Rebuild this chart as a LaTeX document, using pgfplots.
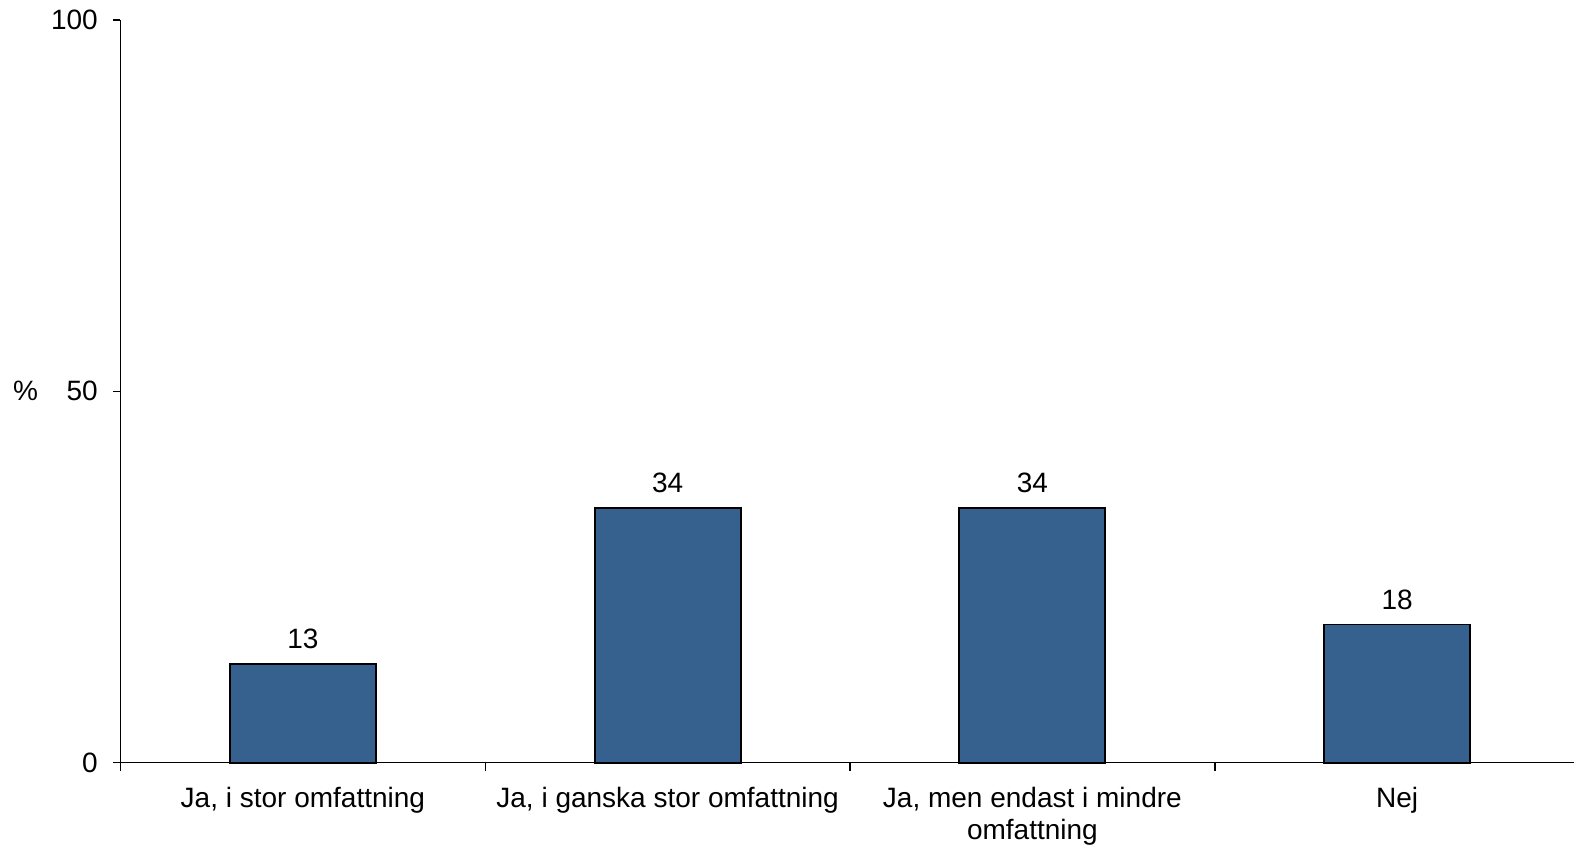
\documentclass[border=0pt]{standalone}
\usepackage{pgfplots}
\pgfplotsset{compat=1.18}
\usepackage{fontspec}
\setmainfont{Liberation Sans}
\definecolor{barblue}{HTML}{36618F}

\begin{document}
\fontsize{14pt}{15pt}\selectfont
\begin{tikzpicture}
  % canvas: 1574x845 px at 0.5pt per px, axis corner at (120.5,762.7) px
  \useasboundingbox (-60.25pt,-41.15pt) rectangle (726.75pt,381.35pt);
  \begin{axis}[
      at={(0,0)}, anchor=south west,
      scale only axis,
      width=729.5pt, height=371.35pt,
      xmin=-0.5, xmax=3.5,
      ymin=0, ymax=100,
      axis x line=bottom, axis y line=left,
      axis line style={-, line width=0.75pt},
      tick align=outside,
      ytick={0,50,100},
      major tick length=3.5pt,
      xtick={0,1,2,3},
      xticklabels={{Ja, i stor omfattning}, {Ja, i ganska stor omfattning},
        {Ja, men endast i mindre\\omfattning}, {Nej}},
      major x tick style={draw=none},
      minor xtick={-0.5,0.5,1.5,2.5,3.5},
      minor tick length=4pt,
      tick style={black, line width=0.75pt},
      /pgf/number format/assume math mode=true,
      every tick label/.append style={font=\fontsize{14pt}{16pt}\selectfont},
      xticklabel style={align=center, yshift=-4pt},
      yticklabel style={xshift=-3pt},
      ybar, bar width=73pt,
      point meta=explicit symbolic,
      nodes near coords,
      every node near coord/.append style={font=\fontsize{14pt}{15pt}\selectfont, yshift=2.5pt},
      clip=false,
    ]
    \addplot[fill=barblue, draw=black, line width=0.9pt] coordinates {
      (0,13.3) [13] (1,34.3) [34] (2,34.3) [34] (3,18.6) [18]
    };
    \node at (axis description cs:0,0.5) [xshift=-47.5pt] {\%};
  \end{axis}
\end{tikzpicture}
\end{document}
